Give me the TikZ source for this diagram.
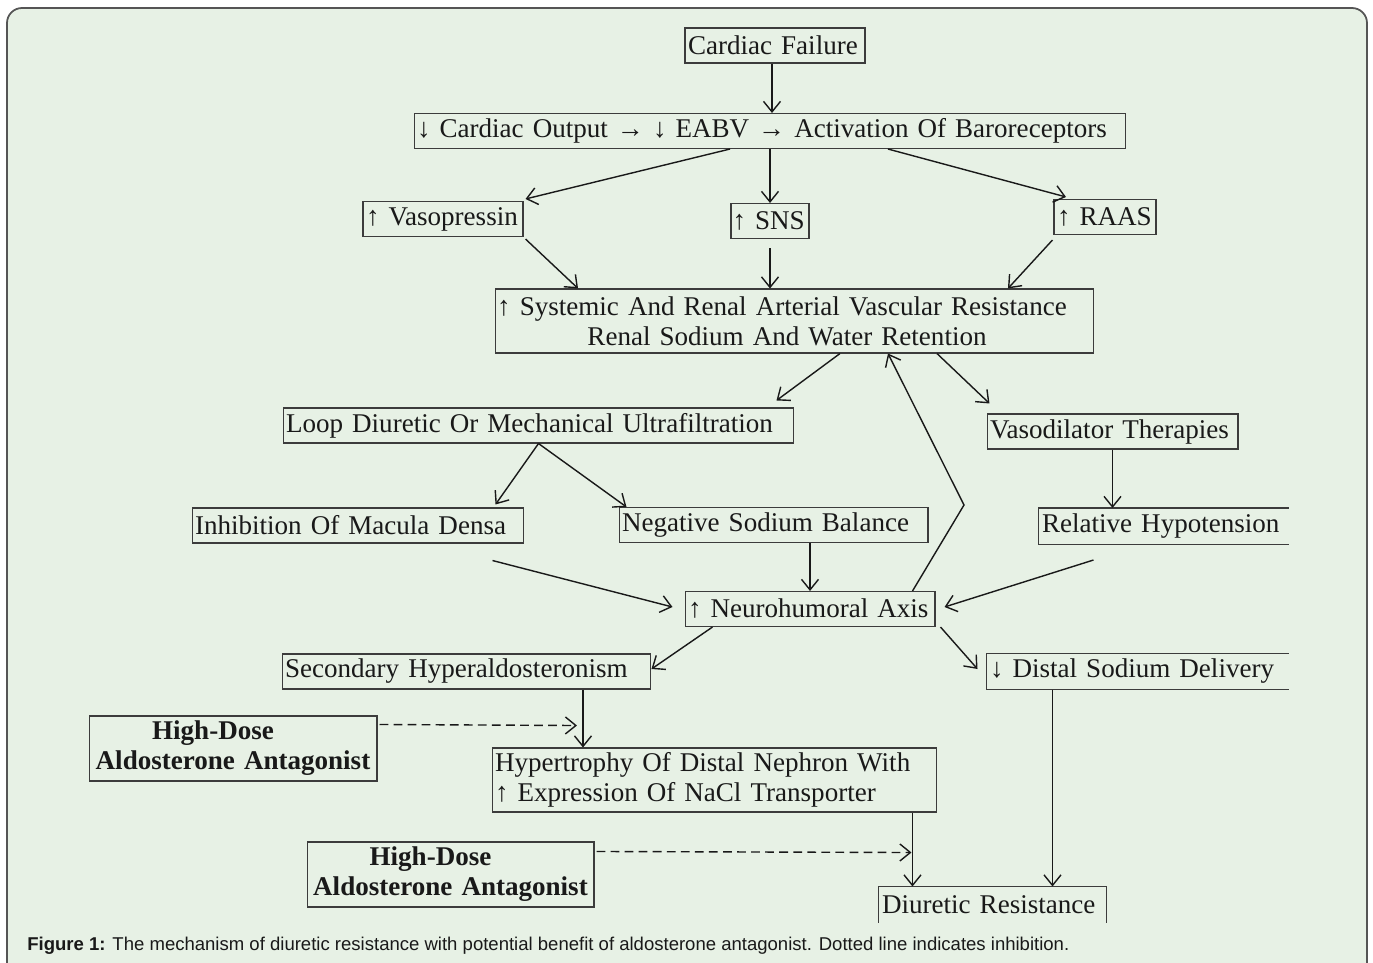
\documentclass[tikz,border=0pt]{standalone}
\usepackage{fontspec}
\setmainfont{Liberation Serif}[WordSpace=1.7]
\newfontfamily\capfont{Liberation Sans}
\usepackage{xcolor}
\definecolor{bggreen}{RGB}{231,241,229}
\definecolor{framegray}{RGB}{85,85,85}
\definecolor{boxgray}{RGB}{60,60,60}
\definecolor{inkblack}{RGB}{25,25,25}
\usetikzlibrary{arrows.meta,positioning,calc}

\begin{document}
\begin{tikzpicture}[x=0.02cm,y=-0.02cm,
      b/.style={draw=boxgray,line width=0.6pt,inner xsep=0.06cm,inner ysep=0pt,
                minimum height=0.7cm,align=left,text=inkblack,
                font=\fontsize{15.4}{17}\selectfont},
      bo/.style={b,draw=none},
      hd/.style={b,align=center,font=\fontsize{15.4}{17}\selectfont\bfseries},
      a/.style={-{Straight Barb[length=2.1mm,width=3.4mm]},line width=0.8pt,color=inkblack},
      ad/.style={a,dashed,dash pattern=on 5pt off 3pt}]
  \useasboundingbox (0,0) rectangle (1373,963);
  \draw[fill=bggreen,draw=framegray,line width=1pt,rounded corners=0.3cm]
    (7,8) rectangle (1367,1000);

  % top of the chain
  \node[b,text width=3.48cm] (cf) at (775,45.5) {Cardiac Failure};
  \node[b,text width=14.12cm] (co) at (770,131)
    {↓ Cardiac Output → ↓ EABV → Activation Of Baroreceptors};
  \node[b,text width=3.08cm] (vp) at (443,219) {↑~Vasopressin};
  \node[b,text width=1.5cm,inner xsep=0.03cm] (sns) at (770,221) {↑~SNS};
  \node[b,text width=1.92cm] (raas) at (1105,217) {↑~RAAS};
  \node[b,text width=11.86cm,align=center,minimum height=1.28cm] (svr) at (794.5,321)
    {\hspace*{-0.5cm}↑ Systemic And Renal Arterial Vascular Resistance\\\hspace*{-0.3cm}Renal Sodium And Water Retention};

  % middle
  \node[b,text width=10.1cm] (ld) at (538.5,425.5) {Loop Diuretic Or Mechanical Ultrafiltration};
  \node[b,text width=4.9cm] (vt) at (1112.5,431.5) {Vasodilator Therapies};
  \node[b,text width=6.52cm] (md) at (358,525.5) {Inhibition Of Macula Densa};
  \node[b,text width=6.06cm] (nsb) at (773.5,525) {Negative Sodium Balance};
  \node[bo,text width=4.86cm] (rh) at (1163.5,526) {Relative Hypotension};
  \node[b,text width=4.88cm] (nh) at (810,609) {↑ Neurohumoral Axis};

  % bottom
  \node[b,text width=7.26cm] (sh) at (466.5,671.5) {Secondary Hyperaldosteronism};
  \node[bo,text width=5.9cm] (dsd) at (1137.5,671.5) {↓ Distal Sodium Delivery};
  \node[hd,text width=5.64cm,minimum height=1.3cm] (hd1) at (233,748.5)
    {\hspace*{-0.8cm}High-Dose\\Aldosterone Antagonist};
  \node[b,text width=8.78cm,minimum height=1.28cm] (hyp) at (714.5,780)
    {Hypertrophy Of Distal Nephron With\\↑ Expression Of NaCl Transporter};
  \node[hd,text width=5.62cm,minimum height=1.3cm] (hd2) at (450.5,874.5)
    {\hspace*{-0.8cm}High-Dose\\Aldosterone Antagonist};
  \node[bo,text width=4.42cm] (dr) at (992.5,904.5) {Diuretic Resistance};

  % boxes left open on one side
  \draw[boxgray,line width=0.6pt] (rh.north east) -- (rh.north west) -- (rh.south west) -- (rh.south east);
  \draw[boxgray,line width=0.6pt] (dsd.north east) -- (dsd.north west) -- (dsd.south west) -- (dsd.south east);
  \draw[boxgray,line width=0.6pt] (dr.south west) -- (dr.north west) -- (dr.north east) -- (dr.south east);

  \coordinate (bend) at (964,505);

  % arrows
  \draw[a] (cf.south -| 772,0) -- (co.north -| 772,0);
  \draw[a] ([xshift=-0.8cm]co.south) -- ([xshift=0.04cm,yshift=0.04cm]vp.north east);
  \draw[a] (co.south) -- (sns.north);
  \draw[a] ([xshift=2.36cm]co.south) -- ([xshift=-0.78cm,yshift=0.04cm]raas.north);
  \draw[a] ([xshift=0.04cm,yshift=-0.04cm]vp.south east) -- ([xshift=-4.33cm]svr.north);
  \draw[a,shorten <=0.18cm] (sns.south) -- (sns.south |- svr.north);
  \draw[a] ([xshift=-0.02cm,yshift=-0.1cm]raas.south west) -- ([xshift=4.27cm]svr.north);
  \draw[a] ([xshift=0.91cm]svr.south) -- ([xshift=-0.36cm,yshift=0.14cm]ld.north east);
  \draw[a] ([xshift=2.85cm]svr.south) -- ([xshift=0.06cm,yshift=0.2cm]vt.north west);
  \draw[a] (vt.south) -- (vt.south |- rh.north);
  \draw[a] (ld.south) -- ([xshift=-0.58cm,yshift=0.06cm]md.north east);
  \draw[a] (ld.south) -- ([xshift=0.16cm]nsb.north west);
  \draw[a] ([xshift=-0.64cm,yshift=-0.34cm]md.south east) -- ([xshift=-0.24cm,yshift=0.04cm]nh.west);
  \draw[a] (nsb.south -| nh.north) -- (nh.north);
  \draw[a] ([xshift=1.1cm,yshift=-0.32cm]rh.south west) -- ([xshift=0.18cm,yshift=0.04cm]nh.east);
  \draw[a] ([xshift=-0.46cm]nh.north east) -- (bend) -- ([xshift=1.87cm]svr.south);
  \draw[a] ([xshift=0.56cm]nh.south west) -- ([yshift=0.05cm]sh.east);
  \draw[a] ([xshift=0.1cm]nh.south east) -- ([xshift=-0.18cm,yshift=0.05cm]dsd.west);
  \draw[a] ([xshift=2.33cm]sh.south) -- ([xshift=2.33cm]sh.south |- hyp.north);
  \draw[ad] ([xshift=0.04cm,yshift=-0.18cm]hd1.north east) -- ([xshift=2.21cm,yshift=-0.72cm]sh.south);
  \draw[a] ([xshift=-0.5cm]hyp.south east) -- ([xshift=-0.5cm]hyp.south east |- dr.north);
  \draw[ad] ([xshift=0.04cm,yshift=-0.2cm]hd2.north east) -- ([xshift=-0.52cm,yshift=-0.8cm]hyp.south east);
  \draw[a] ([xshift=1.32cm]dsd.south west) -- ([xshift=1.32cm]dsd.south west |- dr.north);

  % caption
  \node[anchor=west,inner sep=0pt,text=inkblack,font=\capfont\fontsize{10.55}{12}\selectfont] (cap) at (27,946)
    {\textbf{Figure 1:} The mechanism of diuretic resistance with potential benefit of aldosterone antagonist. Dotted line indicates inhibition.};
\end{tikzpicture}
\end{document}
